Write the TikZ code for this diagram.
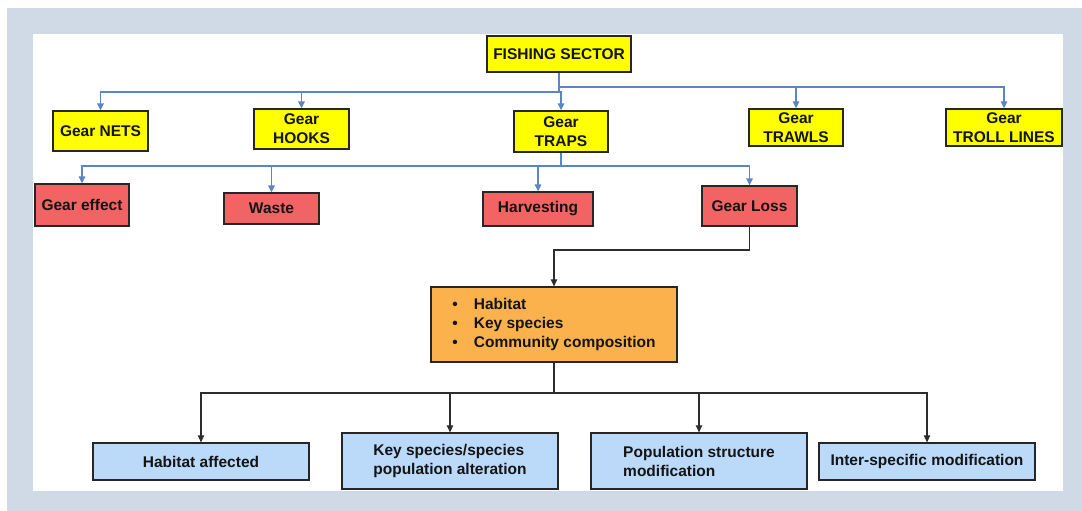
\documentclass[tikz,border=0pt]{standalone}
\usepackage{fontspec}
\setmainfont{Liberation Sans}
\usetikzlibrary{arrows.meta}

\definecolor{framegray}{RGB}{207,218,230}
\definecolor{gearyellow}{RGB}{255,255,0}
\definecolor{effectred}{RGB}{242,100,100}
\definecolor{impactorange}{RGB}{251,178,76}
\definecolor{resultblue}{RGB}{187,218,250}
\definecolor{linkblue}{RGB}{90,134,198}
\definecolor{linkdark}{RGB}{45,45,45}

\tikzset{
  box/.style={draw=black!85, line width=1.3pt, inner sep=0pt, align=center,
    text=black!92, font=\bfseries\fontsize{15.5}{19}\selectfont},
  gearbox/.style={box, fill=gearyellow},
  effectbox/.style={box, fill=effectred},
  impactbox/.style={box, fill=impactorange},
  resultbox/.style={box, fill=resultblue},
  bluelink/.style={draw=linkblue, line width=1.4pt,
    -{Triangle[length=7pt,width=6.5pt]}},
  darklink/.style={draw=linkdark, line width=1.1pt,
    -{Triangle[length=7pt,width=6.5pt]}},
  bluebus/.style={draw=linkblue, line width=1.4pt},
  darkbus/.style={draw=linkdark, line width=1.1pt}
}

\begin{document}
\begin{tikzpicture}[x=1pt,y=-1pt]
  \useasboundingbox (0,0) rectangle (1082,511);
  % frame and panel
  \fill[white] (0,0) rectangle (1082,511);
  \fill[framegray] (7,8) rectangle (1082,511);
  \fill[white] (33,34) rectangle (1063,491);

  % top level
  \node[gearbox, minimum width=144pt, minimum height=36pt] (fish) at (559,54) {FISHING SECTOR};

  % gear types
  \node[gearbox, minimum width=95pt, minimum height=40pt] (nets) at (100.5,131) {Gear NETS};
  \node[gearbox, minimum width=95pt, minimum height=40pt] (hooks) at (301.5,129) {Gear\\HOOKS};
  \node[gearbox, minimum width=94pt, minimum height=41pt] (traps) at (561,131.5) {Gear\\TRAPS};
  \node[gearbox, minimum width=94pt, minimum height=37pt] (trawls) at (796,127.5) {Gear\\TRAWLS};
  \node[gearbox, minimum width=116pt, minimum height=37pt] (troll) at (1004,127.5) {Gear\\TROLL LINES};

  % effects of traps
  \node[effectbox, minimum width=94pt, minimum height=42pt] (effect) at (82,205) {Gear effect};
  \node[effectbox, minimum width=95pt, minimum height=31pt] (waste) at (271.5,208.5) {Waste};
  \node[effectbox, minimum width=110pt, minimum height=34pt] (harv) at (538,209) {Harvesting};
  \node[effectbox, minimum width=95pt, minimum height=40pt] (loss) at (749.5,206) {Gear Loss};

  % impacted components
  \node[impactbox, minimum width=246pt, minimum height=75pt, align=left] (impact) at (554,324.5)
    {\textbullet\hspace{16pt}Habitat\\
     \textbullet\hspace{16pt}Key species\\
     \textbullet\hspace{16pt}Community composition};

  % consequences
  \node[resultbox, minimum width=216pt, minimum height=37pt] (hab) at (201,461.5) {Habitat affected};
  \node[resultbox, minimum width=216pt, minimum height=56pt, align=left] (key) at (450,461) {Key species/species\\population alteration};
  \node[resultbox, minimum width=216pt, minimum height=56pt, align=left] (pop) at (699,461) {Population structure\\modification};
  \node[resultbox, minimum width=216pt, minimum height=37pt] (inter) at (927,461.5) {Inter-specific modification};

  % bus junctions
  \coordinate (busL) at (559,92);
  \coordinate (busR) at (559,87);
  \coordinate (busT) at (561,166);
  \coordinate (lossturn) at (749.5,250);
  \coordinate (busB) at (554,393);

  % fishing sector to gears
  \draw[bluebus] (fish.south) -- (busL);
  \draw[bluebus] (busL) -- (busR);
  \draw[bluelink] (busL) -| (nets.north);
  \draw[bluelink] (busL) -| (hooks.north);
  \draw[bluelink] (busL) -| (traps.north);
  \draw[bluelink] (busR) -| (trawls.north);
  \draw[bluelink] (busR) -| (troll.north);

  % traps to effects
  \draw[bluebus] (traps.south) -- (busT);
  \draw[bluelink] (busT) -| (effect.north);
  \draw[bluelink] (busT) -| (waste.north);
  \draw[bluelink] (busT) -| (harv.north);
  \draw[bluelink] (busT) -| (loss.north);

  % gear loss to impacted components
  \draw[darklink] (loss.south) -- (lossturn) -| (impact.north);

  % impacted components to consequences
  \draw[darkbus] (impact.south) -- (busB);
  \draw[darklink] (busB) -| (hab.north);
  \draw[darklink] (busB) -| (key.north);
  \draw[darklink] (busB) -| (pop.north);
  \draw[darklink] (busB) -| (inter.north);
\end{tikzpicture}
\end{document}
